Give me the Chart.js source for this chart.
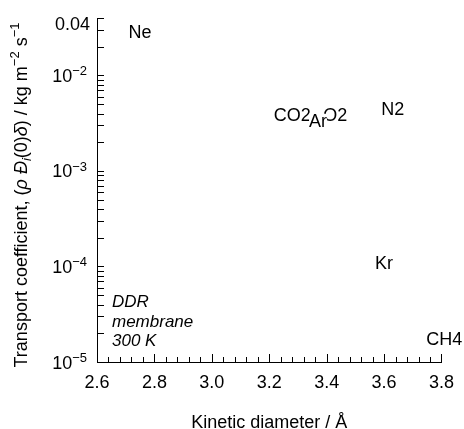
<!DOCTYPE html>
<html>
<head>
<meta charset="utf-8">
<style>
  html, body { margin: 0; padding: 0; background: #fff; }
  canvas { display: block; }
</style>
<script src="https://cdn.jsdelivr.net/npm/chart.js@4/dist/chart.umd.min.js"></script>
</head>
<body>
<canvas id="chart" width="464" height="429"></canvas>
<script>
// Gas species and their transport coefficients through the DDR membrane
const gases = ['Ne', 'CO2', 'O2', 'Ar', 'N2', 'Kr', 'CH4'];
const kineticDiameter = [2.75, 3.28, 3.43, 3.37, 3.63, 3.60, 3.81];          // Å
const transportCoefficient = [0.029, 3.9e-3, 3.9e-3, 3.4e-3, 4.5e-3, 1.1e-4, 1.75e-5]; // kg m^-2 s^-1

// Axis ticks
const xTickValues = [2.6, 2.8, 3.0, 3.2, 3.4, 3.6, 3.8];
const xTickLabels = ['2.6', '2.8', '3.0', '3.2', '3.4', '3.6', '3.8'];
const yTickValues = [1e-5, 1e-4, 1e-3, 1e-2, 0.04];
const yTickLabels = ['10^−5', '10^−4', '10^−3', '10^−2', '0.04'];

const annotationLines = ['DDR', 'membrane', '300 K'];

const FONT = '"Liberation Sans", Arial, Helvetica, sans-serif';
const INK = '#000';

Chart.defaults.font.family = FONT;
Chart.defaults.color = INK;

// Draws inward tick marks, the y labels with exponents, axis titles and point labels
const decorations = {
  id: 'decorations',
  afterDraw(chart) {
    const { ctx, chartArea: a, scales: { x, y } } = chart;
    ctx.save();

    // inward tick marks
    ctx.strokeStyle = INK;
    ctx.lineWidth = 1;
    ctx.beginPath();
    for (let i = 0; i <= 30; i++) {
      const v = 2.6 + i * 0.04;
      const px = Math.round(x.getPixelForValue(v)) + 0.5;
      const len = (i % 5 === 0) ? 8 : 5;
      ctx.moveTo(px, a.bottom);
      ctx.lineTo(px, a.bottom - len);
    }
    for (let k = -5; k <= -2; k++) {
      for (let m = 1; m <= 9; m++) {
        const v = m * Math.pow(10, k);
        if (v > 0.0400001) break;
        const py = Math.round(y.getPixelForValue(v)) + 0.5;
        ctx.moveTo(a.left, py);
        ctx.lineTo(a.left + 7, py);
      }
    }
    ctx.stroke();

    // y tick labels (base with superscript exponent)
    ctx.fillStyle = INK;
    ctx.textBaseline = 'alphabetic';
    ctx.textAlign = 'right';
    yTickValues.forEach((v, i) => {
      const py = y.getPixelForValue(v);
      const parts = yTickLabels[i].split('^');
      if (parts.length === 2) {
        ctx.font = '13px ' + FONT;
        const supW = ctx.measureText(parts[1]).width;
        const right = a.left - 10;
        ctx.fillText(parts[1], right, py);
        ctx.font = '18px ' + FONT;
        ctx.fillText(parts[0], right - supW, py + 6.5);
      } else {
        ctx.font = '18px ' + FONT;
        ctx.fillText(parts[0], a.left - 7, py + 12);
      }
    });

    // x axis title
    ctx.textAlign = 'center';
    ctx.font = '18px ' + FONT;
    ctx.fillText('Kinetic diameter / Å', (a.left + a.right) / 2, 427.5);

    // y axis title, rotated, with italic symbols, subscript and superscripts
    const segs = [
      ['Transport coefficient, (', 'n'], ['ρ', 'i'], [' ', 'n'], ['Đ', 'i'],
      ['i', 'sub'], ['(0)', 'n'], ['δ', 'i'], [') / kg m', 'n'],
      ['−2', 'sup'], [' s', 'n'], ['−1', 'sup']
    ];
    const fontFor = s => s === 'i' ? 'italic 18px ' + FONT
                     : s === 'sub' ? 'italic 13px ' + FONT
                     : s === 'sup' ? '13px ' + FONT
                     : '18px ' + FONT;
    let total = 0;
    segs.forEach(([t, s]) => { ctx.font = fontFor(s); total += ctx.measureText(t).width; });
    ctx.save();
    ctx.translate(20, 195);
    ctx.rotate(-Math.PI / 2);
    ctx.textAlign = 'left';
    let u = -total / 2;
    segs.forEach(([t, s]) => {
      ctx.font = fontFor(s);
      const v = s === 'sup' ? -1 : s === 'sub' ? 10.5 : 6.5;
      ctx.fillText(t, u, v);
      u += ctx.measureText(t).width;
    });
    ctx.restore();

    // gas labels at their data positions
    ctx.textAlign = 'center';
    ctx.font = '18px ' + FONT;
    gases.forEach((g, i) => {
      const px = x.getPixelForValue(kineticDiameter[i]);
      const py = y.getPixelForValue(transportCoefficient[i]);
      const w = ctx.measureText(g).width;
      ctx.fillStyle = '#fff';
      ctx.fillRect(px - w / 2, py - 6.5, w, 14);
      ctx.fillStyle = INK;
      ctx.fillText(g, px, py + 6.5);
    });

    // conditions note
    ctx.textAlign = 'left';
    ctx.font = 'italic 17px ' + FONT;
    annotationLines.forEach((t, i) => {
      ctx.fillText(t, a.left + 15, a.bottom - 55 + i * 19.5);
    });

    ctx.restore();
  }
};

new Chart(document.getElementById('chart'), {
  type: 'scatter',
  data: {
    datasets: [{
      data: gases.map((g, i) => ({ x: kineticDiameter[i], y: transportCoefficient[i] })),
      pointRadius: 0,
      showLine: false
    }]
  },
  options: {
    responsive: false,
    animation: false,
    devicePixelRatio: 1,
    layout: { padding: { top: 18, right: 22, left: 0, bottom: 0 } },
    plugins: { legend: { display: false }, tooltip: { enabled: false } },
    scales: {
      x: {
        type: 'linear',
        min: 2.6,
        max: 3.8,
        afterBuildTicks: s => { s.ticks = xTickValues.map(v => ({ value: v })); },
        afterFit: s => { s.height = 67; },
        ticks: {
          callback: (v, i) => xTickLabels[i],
          font: { size: 18 },
          color: INK,
          padding: 10,
          maxRotation: 0,
          autoSkip: false
        },
        grid: { display: false, drawTicks: false },
        border: { display: true, color: INK, width: 1 }
      },
      y: {
        type: 'logarithmic',
        min: 1e-5,
        max: 0.04,
        afterFit: s => { s.width = 97; },
        ticks: { display: false },
        grid: { display: false, drawTicks: false },
        border: { display: true, color: INK, width: 1 }
      }
    }
  },
  plugins: [decorations]
});
</script>
</body>
</html>
